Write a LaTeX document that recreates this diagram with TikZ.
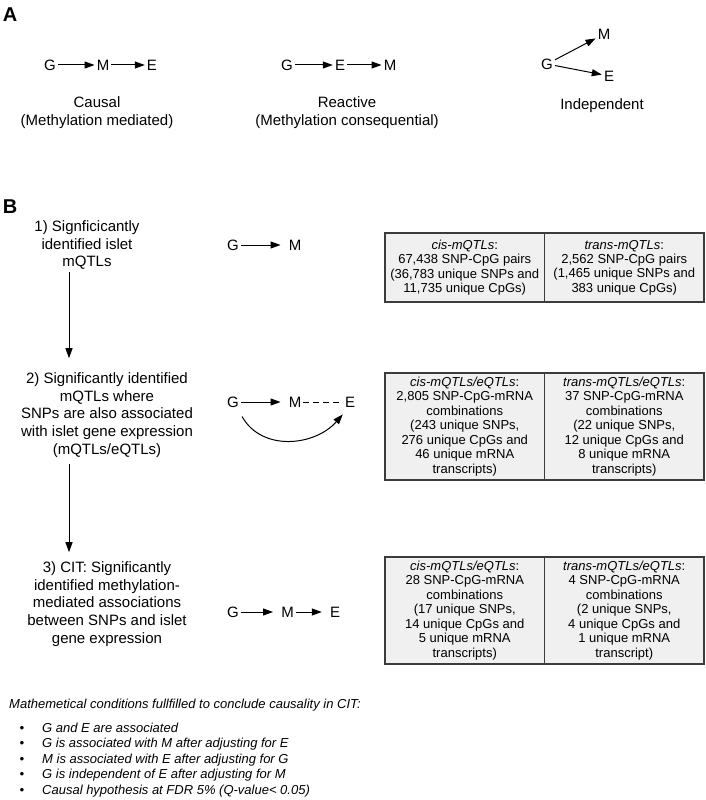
\documentclass[tikz,border=0pt]{standalone}
\usepackage{fontspec}
\setmainfont{Liberation Sans}
\usepackage{xcolor}
\usetikzlibrary{arrows.meta}
\definecolor{cellfill}{RGB}{240,240,240}
\definecolor{cellline}{RGB}{60,60,60}
\newcommand{\fs}[2]{\fontsize{#1}{#2}\selectfont}
\tikzset{
  panel/.style={font=\bfseries\fs{20}{22}, inner sep=0pt},
  var/.style={font=\fs{15}{18}, inner sep=2pt},
  arr/.style={line width=1pt, -{Triangle[length=10pt,width=7pt]}},
  barr/.style={arr, shorten >=6pt},
  caption/.style={font=\fs{15}{18.5}, align=center, inner sep=0pt},
  steptext/.style={font=\fs{15}{17.8}, align=center, inner sep=0pt},
  cell/.style={draw=cellline, fill=cellfill, line width=1.2pt, minimum width=159.5pt, inner sep=0pt},
  celltext/.style={font=\fs{13}{#1}, align=center, inner sep=0pt},
  celltext/.default=14.3,
  note/.style={font=\itshape\fs{13}{15.5}, inner sep=0pt}
}
\begin{document}
\begin{tikzpicture}[x=1pt,y=-1pt]
\useasboundingbox (0,0) rectangle (706,800);
\node[panel] (pa) at (10,15) {A};
\node[panel] (pb) at (10,207) {B};
\node[var] (g1) at (50,65) {G};
\node[var] (m1) at (103,65) {M};
\node[var] (e1) at (152,65) {E};
\draw[arr] (g1) -- (m1);
\draw[arr] (m1) -- (e1);
\node[caption] (causal) at (97,112.5) {Causal\\(Methylation mediated)};
\node[var] (g2) at (287,65) {G};
\node[var] (e2) at (340,65) {E};
\node[var] (m2) at (390,65) {M};
\draw[arr] (g2) -- (e2);
\draw[arr] (e2) -- (m2);
\node[caption] (reactive) at (347,112.5) {Reactive\\(Methylation consequential)};
\node[var] (g3) at (547,64) {G};
\node[var] (m3) at (604,34) {M};
\node[var] (e3) at (609,76) {E};
\draw[arr] (g3) -- (m3);
\draw[arr] (g3) -- (e3);
\node[caption] (indep) at (602,106) {Independent};
\node[steptext] (s1) at (87,245) {1) Signficicantly\\identified islet\\mQTLs};
\node[steptext] (s2) at (107,415) {2) Significantly identified\\mQTLs where\\SNPs are also associated\\with islet gene expression\\(mQTLs/eQTLs)};
\node[steptext] (s3) at (107,604) {3) CIT: Significantly\\identified methylation-\\mediated associations\\between SNPs and islet\\gene expression};
\coordinate (axis) at (69,0);
\draw[arr, shorten <=2.5pt, shorten >=14pt] (s1.south -| axis) -- (s2.north -| axis);
\draw[arr, shorten <=6pt, shorten >=9pt] (s2.south -| axis) -- (s3.north -| axis);
\node[var] (gb1) at (233,245) {G};
\node[var] (mb1) at (295,245) {M};
\draw[barr] (gb1) -- (mb1);
\node[var] (gb2) at (233,402) {G};
\node[var] (mb2) at (295,402) {M};
\node[var] (eb2) at (350,402) {E};
\draw[barr] (gb2) -- (mb2);
\draw[line width=1pt, dash pattern=on 6pt off 4pt] (mb2) -- (eb2);
\draw[arr] ([xshift=1pt,yshift=-7pt]gb2.south east) .. controls (262,452) and (315,446) .. ([yshift=-5pt]eb2.south west);
\node[var] (gb3) at (233,612) {G};
\node[var] (mb3) at (287.5,612) {M};
\node[var] (eb3) at (335,612) {E};
\draw[barr] (gb3) -- (mb3);
\draw[barr] (mb3) -- (eb3);
\node[cell, minimum height=69pt] (cis1) at (464.75,267.5) {};
\node[cell, minimum height=69pt] (trans1) at (624.25,267.5) {};
\node[celltext] (cis1t) at (cis1) {\textit{cis-mQTLs}:\\67,438 SNP-CpG pairs\\(36,783 unique SNPs and\\11,735 unique CpGs)};
\node[celltext] (trans1t) at (trans1) {\textit{trans-mQTLs}:\\2,562 SNP-CpG pairs\\(1,465 unique SNPs and\\383 unique CpGs)};
\node[cell, minimum height=107pt] (cis2) at (464.75,426.5) {};
\node[cell, minimum height=107pt] (trans2) at (624.25,426.5) {};
\node[celltext=14.5] (cis2t) at (cis2) {\textit{cis-mQTLs/eQTLs}:\\2,805 SNP-CpG-mRNA\\combinations\\(243 unique SNPs,\\276 unique CpGs and\\46 unique mRNA\\transcripts)};
\node[celltext=14.5] (trans2t) at (trans2) {\textit{trans-mQTLs/eQTLs}:\\37 SNP-CpG-mRNA\\combinations\\(22 unique SNPs,\\12 unique CpGs and\\8 unique mRNA\\transcripts)};
\node[cell, minimum height=107pt] (cis3) at (464.75,610.5) {};
\node[cell, minimum height=107pt] (trans3) at (624.25,610.5) {};
\node[celltext=14.5] (cis3t) at (cis3) {\textit{cis-mQTLs/eQTLs}:\\28 SNP-CpG-mRNA\\combinations\\(17 unique SNPs,\\14 unique CpGs and\\5 unique mRNA\\transcripts)};
\node[celltext=14.5] (trans3t) at (trans3) {\textit{trans-mQTLs/eQTLs}:\\4 SNP-CpG-mRNA\\combinations\\(2 unique SNPs,\\4 unique CpGs and\\1 unique mRNA\\transcript)};
\node[note, anchor=base west] (cond) at (9,708) {Mathemetical conditions fullfilled to conclude causality in CIT:};
\foreach \txt [count=\i] in {G and E are associated, G is associated with M after adjusting for E, M is associated with E after adjusting for G, G is independent of E after adjusting for M, Causal hypothesis at FDR 5\% (Q-value< 0.05)}{
  \node[note, anchor=base] (bul\i) at (22,716.5+15.5*\i) {•};
  \node[note, anchor=base west] (cond\i) at (42,716.5+15.5*\i) {\txt};
}
\end{tikzpicture}
\end{document}
